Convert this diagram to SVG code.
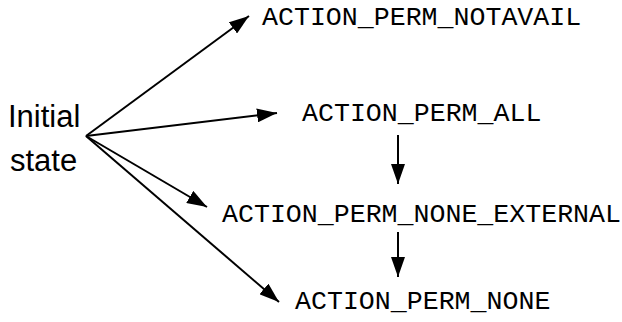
<svg xmlns="http://www.w3.org/2000/svg" width="622" height="322" viewBox="0 0 622 322">
<style>
.lbl{font-family:"Liberation Sans",Arial,sans-serif;font-size:31px;fill:#000}
.st{font-family:"Liberation Mono","Courier New",monospace;font-size:26.6px;fill:#000}
.c{stroke:#000;stroke-width:2;fill:none}
</style>
<defs>
<marker id="ah" markerWidth="20" markerHeight="14" refX="20" refY="7" orient="auto" markerUnits="userSpaceOnUse">
<path d="M0,0 L20,7 L0,14 Z" fill="#000"/>
</marker>
</defs>
<rect width="622" height="322" fill="#fff"/>
<g id="initial"><text class="lbl" x="8" y="127">Initial</text><text class="lbl" x="10" y="171">state</text></g>
<g id="notavail"><text class="st" x="262" y="25">ACTION_PERM_NOTAVAIL</text></g>
<g id="all"><text class="st" x="302" y="121">ACTION_PERM_ALL</text></g>
<g id="none_external"><text class="st" x="222" y="222">ACTION_PERM_NONE_EXTERNAL</text></g>
<g id="none"><text class="st" x="295" y="309">ACTION_PERM_NONE</text></g>
<g id="connectors">
<line class="c" x1="86" y1="136" x2="249" y2="16" marker-end="url(#ah)"/>
<line class="c" x1="86" y1="136" x2="277" y2="113" marker-end="url(#ah)"/>
<line class="c" x1="86" y1="136" x2="207" y2="207" marker-end="url(#ah)"/>
<line class="c" x1="86" y1="136" x2="279" y2="302" marker-end="url(#ah)"/>
<line class="c" x1="398" y1="135" x2="398" y2="184" marker-end="url(#ah)"/>
<line class="c" x1="398" y1="232" x2="398" y2="277" marker-end="url(#ah)"/>
</g>
</svg>
